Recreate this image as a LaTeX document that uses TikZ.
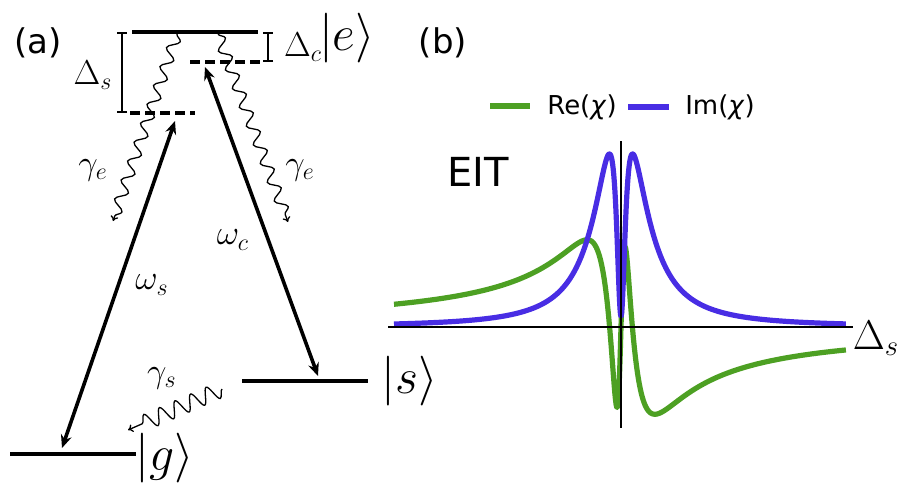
\documentclass[tikz,border=0pt]{standalone}
\usepackage{fontspec}
\setsansfont{DejaVu Sans}
\usepackage{tikz}
\usetikzlibrary{arrows.meta,decorations.pathmorphing}
\definecolor{regreen}{RGB}{77,160,35}
\definecolor{imblue}{RGB}{72,45,228}

\begin{document}
\begin{tikzpicture}[
  x=0.5pt, y=-0.5pt,
  level/.style={line width=2pt},
  virtual/.style={line width=2pt, dash pattern=on 5pt off 2.5pt},
  laser/.style={{Stealth[length=6.5pt,width=5.5pt]}-{Stealth[length=6.5pt,width=5.5pt]}, line width=1.8pt},
  decay/.style={-{To[length=2.5pt,width=4pt]}, line width=0.65pt, decorate,
                decoration={snake, amplitude=2.8pt, segment length=10pt, post length=2pt}},
  detuning/.style={line width=0.8pt, {Bar[width=5pt]}-{Bar[width=5pt]}},
  axisline/.style={line width=1pt},
  curve/.style={line width=2.6pt, line join=round},
  ket/.style={inner sep=0pt, font=\fontsize{26}{30}\selectfont},
  mlabel/.style={inner sep=0pt, font=\fontsize{18}{22}\selectfont},
  panel/.style={inner sep=0pt, font=\sffamily\fontsize{17}{20}\selectfont},
  declare function={
    eitA(\d)=3+0.0364/(0.000784+\d*\d);
    eitB(\d)=\d*(1-1.3/(0.000784+\d*\d));
    imchi(\d)=eitA(\d)/(eitA(\d)^2+eitB(\d)^2);
    rechi(\d)=-eitB(\d)/(eitA(\d)^2+eitB(\d)^2);
  }
]
\useasboundingbox (0,0) rectangle (901,488);

% (a) level scheme
\coordinate (e1) at (132,32);  \coordinate (e2) at (258,32);
\coordinate (dc1) at (190,62); \coordinate (dc2) at (262,62);
\coordinate (ds1) at (130,113); \coordinate (ds2) at (195,113);
\coordinate (s1) at (242,381); \coordinate (s2) at (368,381);
\coordinate (g1) at (10,454);  \coordinate (g2) at (136,454);

\draw[level] (e1) -- (e2);
\draw[level] (s1) -- (s2);
\draw[level] (g1) -- (g2);
\draw[virtual] (dc1) -- (dc2);
\draw[virtual] (ds1) -- (ds2);

\coordinate (bs1) at (122,32); \coordinate (bs2) at (122,113);
\coordinate (bc1) at (268,32); \coordinate (bc2) at (268,62);
\draw[detuning] (bs1) -- (bs2);
\draw[detuning] (bc1) -- (bc2);

\coordinate (ws top) at (175,121); \coordinate (ws bot) at (62,448);
\coordinate (wc top) at (205,67);  \coordinate (wc bot) at (318,376);
\draw[laser] (ws bot) -- (ws top);
\draw[laser] (wc bot) -- (wc top);

\coordinate (ge1 a) at (177,34); \coordinate (ge1 b) at (113,221);
\coordinate (ge2 a) at (218,34); \coordinate (ge2 b) at (288,222);
\coordinate (gs a) at (222,389);  \coordinate (gs b) at (128,430);
\draw[decay] (ge1 a) -- (ge1 b);
\draw[decay] (ge2 a) -- (ge2 b);
\draw[decay, decoration={amplitude=4pt, segment length=8.5pt, post length=4pt}] (gs a) -- (gs b);

\node[panel] (lbl a) at (38,43) {(a)};
\node[mlabel] (ds lbl) at (93,75) {$\Delta_s$};
\node[mlabel, font=\fontsize{17}{20}\selectfont] (dc lbl) at (303,47) {$\Delta_c$};
\node[ket] (ket e) at (347,38) {$|e\rangle$};
\node[ket] (ket s) at (410,381) {$|s\rangle$};
\node[ket] (ket g) at (165,458) {$|g\rangle$};
\node[mlabel] (ge lbl l) at (93,170) {$\gamma_e$};
\node[mlabel] (ge lbl r) at (300,170) {$\gamma_e$};
\node[mlabel] (gs lbl) at (162,378) {$\gamma_s$};
\node[mlabel] (ws lbl) at (152,285) {$\omega_s$};
\node[mlabel] (wc lbl) at (233,240) {$\omega_c$};

% (b) susceptibility
\node[panel] (lbl b) at (443,43) {(b)};
\node[panel, font=\sffamily\fontsize{20}{24}\selectfont] (eit) at (478,172) {EIT};

\coordinate (re l) at (490,106); \coordinate (re r) at (530,106);
\coordinate (im l) at (628,107); \coordinate (im r) at (669,107);
\draw[regreen, line width=2.6pt] (re l) -- (re r);
\draw[imblue, line width=2.6pt] (im l) -- (im r);
\node[panel, font=\sffamily\fontsize{13}{16}\selectfont] (re lbl) at (582,107) {Re(\textit{χ})};
\node[panel, font=\sffamily\fontsize{13}{16}\selectfont] (im lbl) at (720,107) {Im(\textit{χ})};

\draw[curve, regreen] plot[domain=-22.7:22.5, samples=801] ({621+10*\x},{327-524*rechi(\x)});
\draw[curve, imblue] plot[domain=-22.7:22.5, samples=801] ({621+10*\x},{327-524*imchi(\x)});

\coordinate (ax l) at (388,327); \coordinate (ax r) at (853,327);
\coordinate (ay t) at (621,141); \coordinate (ay b) at (621,428);
\draw[axisline] (ax l) -- (ax r);
\draw[line width=0.8pt] (ay t) -- (ay b);
\node[mlabel, font=\fontsize{22}{26}\selectfont] (axis lbl) at (876,338) {$\Delta_s$};
\end{tikzpicture}
\end{document}
